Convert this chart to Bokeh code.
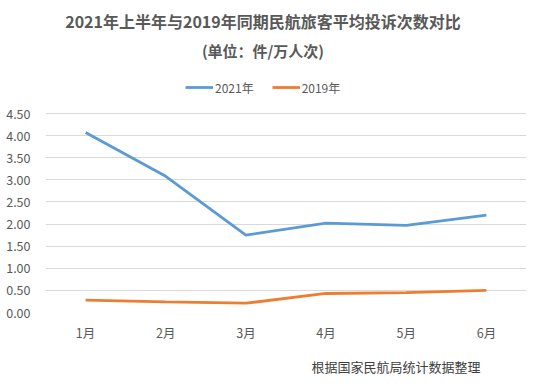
from bokeh.plotting import figure
from bokeh.models import Title, Legend, LegendItem, FactorRange, Range1d, NumeralTickFormatter, FixedTicker, Label
from bokeh.embed import file_html
from bokeh.resources import INLINE

months = ["1月", "2月", "3月", "4月", "5月", "6月"]
v2021 = [4.07, 3.08, 1.75, 2.02, 1.97, 2.20]
v2019 = [0.28, 0.24, 0.21, 0.43, 0.45, 0.50]
y_ticks = [0, 0.5, 1.0, 1.5, 2.0, 2.5, 3.0, 3.5, 4.0, 4.5]

FONT = "Noto Sans CJK SC"
TXT = "#595959"
PXU = 199 / 4.5  # pixels per unit

def ypos(page_y):
    return (312 - page_y) / PXU

p = figure(frame_width=481, frame_height=304, x_range=FactorRange(*months, range_padding=0),
           y_range=Range1d(0, 304 / PXU), output_backend="svg", toolbar_location=None,
           min_border_left=45, min_border_right=7, min_border_bottom=60, min_border_top=8)
p.outline_line_color = None
p.background_fill_color = "white"

r1 = p.line(months, v2021, line_color="#5B9BD5", line_width=2.8)
r2 = p.line(months, v2019, line_color="#ED7D31", line_width=2.8)

p.xgrid.grid_line_color = None
p.ygrid.grid_line_color = "#D9D9D9"
p.ygrid.ticker = FixedTicker(ticks=y_ticks)
p.yaxis.ticker = FixedTicker(ticks=y_ticks)
p.yaxis.formatter = NumeralTickFormatter(format="0.00")
for ax in (p.xaxis[0], p.yaxis[0]):
    ax.axis_line_color = None
    ax.major_tick_line_color = None
    ax.minor_tick_line_color = None
    ax.major_label_text_font = FONT
    ax.major_label_text_font_size = "12.5px"
    ax.major_label_text_color = TXT
p.xaxis.major_label_standoff = 4
p.yaxis.major_label_standoff = 9

legend = Legend(items=[LegendItem(label="2021年", renderers=[r1]), LegendItem(label="2019年", renderers=[r2])],
                orientation="horizontal", location=(140, 215), border_line_color=None,
                background_fill_alpha=0,
                label_text_font=FONT, label_text_font_size="12px", label_text_color=TXT,
                glyph_width=28, spacing=18, padding=2, label_standoff=2, margin=0)
p.add_layout(legend)

cx = (262 - 45) / 80
p.add_layout(Label(x=cx, y=ypos(20), text="2021年上半年与2019年同期民航旅客平均投诉次数对比",
                   text_align="center", text_baseline="middle", text_font=FONT, text_font_size="16px",
                   text_font_style="bold", text_color=TXT))
p.add_layout(Label(x=cx, y=ypos(50), text="(单位：件/万人次)",
                   text_align="center", text_baseline="middle", text_font=FONT, text_font_size="15px",
                   text_font_style="bold", text_color=TXT))

p.add_layout(Title(text="根据国家民航局统计数据整理", align="right", text_font=FONT, text_font_size="13px",
                   text_font_style="normal", text_color="#404040", offset=46, standoff=20), "below")

open("out.html", "w").write(file_html(p, INLINE))
